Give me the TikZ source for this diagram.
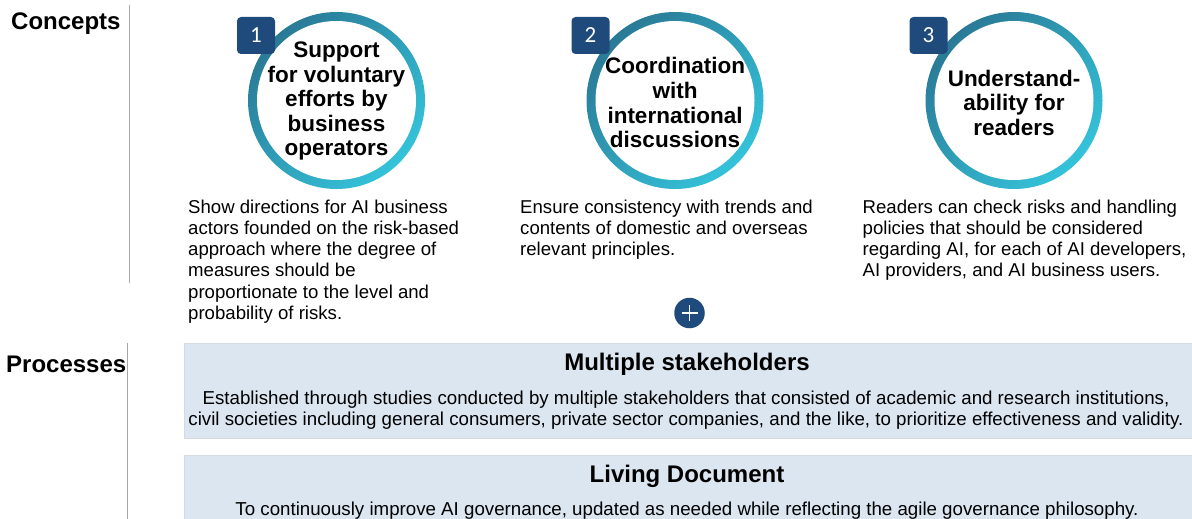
\documentclass[tikz,border=0pt]{standalone}
\usepackage{fontspec}
\setmainfont{Liberation Sans}
\newfontfamily\numfont{Carlito}
\usetikzlibrary{positioning}

\definecolor{ringdark}{HTML}{2A7A96}
\definecolor{ringlight}{HTML}{34C3DA}
\definecolor{badgeblue}{HTML}{1F4A7C}
\definecolor{boxfill}{HTML}{DCE6F1}
\definecolor{boxline}{HTML}{D3DAE3}
\definecolor{sepgray}{HTML}{A6A6A6}

\begin{document}
\begin{tikzpicture}[x=1pt, y=-1pt,
  every node/.style={inner sep=0pt, text=black},
  section/.style={font=\fontsize{24}{28}\selectfont\bfseries, anchor=base west},
  ring/.style={circle, minimum size=177pt, top color=ringdark, bottom color=ringlight, shading angle=45},
  hole/.style={circle, fill=white, minimum size=159pt},
  ringtitle/.style={font=\fontsize{22.5}{24.6}\selectfont\bfseries, align=center},
  badge/.style={fill=badgeblue, rounded corners=4pt, minimum width=38pt, minimum height=37pt, text=white, font=\numfont\fontsize{23}{24}\selectfont},
  desc/.style={font=\fontsize{18.6}{21.3}\selectfont, align=left, anchor=base west},
  procbox/.style={fill=boxfill, draw=boxline, line width=1pt, anchor=north west, minimum width=1020pt},
  prochead/.style={font=\fontsize{24}{28}\selectfont\bfseries, anchor=base},
  proctext/.style={font=\fontsize{18.7}{21}\selectfont, align=center, anchor=base}]

  \useasboundingbox (0,0) rectangle (1192,519);
  \clip (0,0) rectangle (1192,519);

  % Row labels and separators
  \node[section] (concepts) at (11,29.5) {Concepts};
  \node[section] (processes) at (6,372) {Processes};
  \draw[sepgray, line width=1.3pt] (129.3,5) -- (129.3,283);
  \draw[sepgray, line width=1.3pt] (127.5,343) -- (127.5,519);

  % Concept 1 (desc nodes sit on their last baseline)
  \node[ring] (ring1) at (336.5,100.5) {};
  \node[hole] (hole1) at (ring1) {};
  \node[ringtitle] (title1) at (336.5,101.2) {Support\\for voluntary\\efforts by\\business\\operators};
  \node[badge] (badge1) at (256,35.5) {1};
  \node[desc] (desc1) at (188,319.5) {Show directions for AI business\\actors founded on the risk-based\\approach where the degree of\\measures should be\\proportionate to the level and\\probability of risks.};

  % Concept 2
  \node[ring] (ring2) at (675,100.5) {};
  \node[hole] (hole2) at (ring2) {};
  \node[ringtitle] (title2) at (675,102.7) {Coordination\\with\\international\\discussions};
  \node[badge] (badge2) at (590.5,35.5) {2};
  \node[desc] (desc2) at (520,255.6) {Ensure consistency with trends and\\contents of domestic and overseas\\relevant principles.};

  % Concept 3
  \node[ring] (ring3) at (1014,100.5) {};
  \node[hole] (hole3) at (ring3) {};
  \node[ringtitle] (title3) at (1014,102.8) {Understand-\\ability for\\readers};
  \node[badge] (badge3) at (928.5,35.5) {3};
  \node[desc] (desc3) at (862.5,276.9) {Readers can check risks and handling\\policies that should be considered\\regarding AI, for each of AI developers,\\AI providers, and AI business users.};

  % Plus sign
  \node[circle, fill=badgeblue, minimum size=30.5pt] (plus) at (689.5,313) {};
  \draw[white, line width=1.5pt] ([xshift=-8pt]plus.center) -- ([xshift=8pt]plus.center);
  \draw[white, line width=1.5pt] ([yshift=-8pt]plus.center) -- ([yshift=8pt]plus.center);

  % Process boxes
  \node[procbox, minimum height=95pt] (stakebox) at (184,343.3) {};
  \node[prochead] (stakehead) at (687,370.5) {Multiple stakeholders};
  \node[proctext] (staketext) at (686,425.5) {Established through studies conducted by multiple stakeholders that consisted of academic and research institutions,\\civil societies including general consumers, private sector companies, and the like, to prioritize effectiveness and validity.};

  \node[procbox, minimum height=95pt] (livebox) at (184,455) {};
  \node[prochead] (livehead) at (687,482) {Living Document};
  \node[proctext] (livetext) at (687,515.5) {To continuously improve AI governance, updated as needed while reflecting the agile governance philosophy.};

\end{tikzpicture}
\end{document}
